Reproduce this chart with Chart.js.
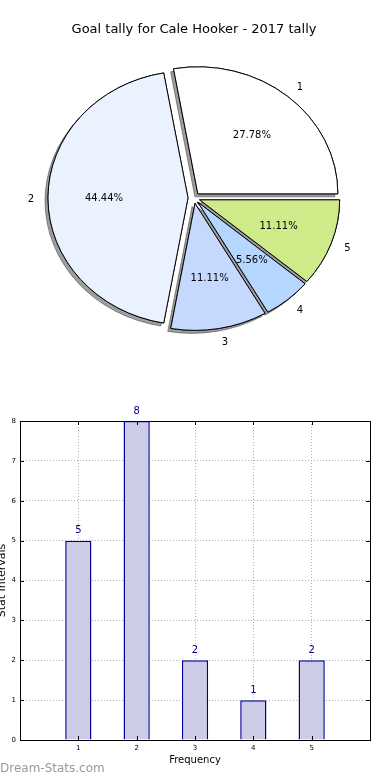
<!DOCTYPE html>
<html>
<head>
<meta charset="utf-8">
<script src="https://cdn.jsdelivr.net/npm/chart.js@4.4.1/dist/chart.umd.min.js"></script>
<style>
  body { margin: 0; background: #fff; width: 390px; height: 780px; position: relative; overflow: hidden; }
  #pieChart { position: absolute; left: 0; top: 0; }
  #barChart { position: absolute; left: 0; top: 400px; }
  #brand { position: absolute; left: 0; top: 761px; font: 12px 'DejaVu Sans', sans-serif; color: #999; }
</style>
</head>
<body>
<canvas id="pieChart" width="390" height="400"></canvas>
<canvas id="barChart" width="390" height="380"></canvas>
<div id="brand">Dream-Stats.com</div>
<script>
const titleText = 'Goal tally for Cale Hooker - 2017 tally';
const categories = ['1', '2', '3', '4', '5'];
const tally = [5, 8, 2, 1, 2];
const sliceColors = ['#ffffff', '#ebf2ff', '#c5d9ff', '#b4d6ff', '#cfeb89'];
const freqTicks = [1, 2, 3, 4, 5];
const yTicks = [0, 1, 2, 3, 4, 5, 6, 7, 8];

Chart.defaults.font.family = "'DejaVu Sans', sans-serif";
Chart.defaults.color = '#000';

const EXPLODE = 6;      // px pushed out along each wedge's middle
const SQUASH = 127 / 140; // the original pie is a little flattened

// matplotlib goes counter-clockwise from 3 o'clock, Chart.js clockwise -> reverse
const pieLabels = categories.slice().reverse();
const pieValues = tally.slice().reverse();
const pieColors = sliceColors.slice().reverse();
const total = tally.reduce((a, b) => a + b, 0);

function wedgeCenter(arc) {
    const mid = (arc.startAngle + arc.endAngle) / 2;
    return {
        mid,
        x: arc.x + Math.cos(mid) * EXPLODE,
        y: arc.y + Math.sin(mid) * EXPLODE * SQUASH
    };
}

const pieLook = {
    id: 'pieLook',
    beforeDatasetsDraw(chart) {
        const ctx = chart.ctx;
        const arcs = chart.getDatasetMeta(0).data;
        const pass = (shadow) => arcs.forEach(arc => {
            const c = wedgeCenter(arc);
            ctx.save();
            if (shadow) {
                ctx.shadowColor = 'rgba(0,0,0,0.38)';
                ctx.shadowOffsetX = -3;
                ctx.shadowOffsetY = 3;
                ctx.shadowBlur = 0;
            }
            ctx.translate(c.x, c.y);
            ctx.scale(1, SQUASH);
            ctx.translate(-arc.x, -arc.y);
            arc.draw(ctx);
            ctx.restore();
        });
        pass(true);
        pass(false);
        return false;
    },
    afterDraw(chart) {
        const ctx = chart.ctx;
        const arcs = chart.getDatasetMeta(0).data;
        ctx.save();
        ctx.fillStyle = '#000';
        ctx.font = "10px 'DejaVu Sans'";
        ctx.textBaseline = 'middle';
        arcs.forEach((arc, i) => {
            const c = wedgeCenter(arc);
            const r = arc.outerRadius;
            const cos = Math.cos(c.mid), sin = Math.sin(c.mid);
            const pct = (pieValues[i] / total * 100).toFixed(2) + '%';
            ctx.textAlign = 'center';
            ctx.fillText(pct, c.x + cos * 0.6 * r, c.y + sin * 0.6 * r * SQUASH);
            ctx.textAlign = cos > 0 ? 'left' : 'right';
            ctx.fillText(chart.data.labels[i], c.x + cos * 1.1 * r, c.y + sin * 1.1 * r * SQUASH + 1);
        });
        ctx.restore();
    }
};

new Chart(document.getElementById('pieChart'), {
    type: 'pie',
    data: {
        labels: pieLabels,
        datasets: [{
            data: pieValues,
            backgroundColor: pieColors,
            borderColor: '#000',
            borderWidth: 1
        }]
    },
    options: {
        responsive: false,
        animation: false,
        events: [],
        rotation: 90,
        radius: 140,
        layout: { padding: { left: 0, right: 2, top: 0, bottom: 44.6 } },
        plugins: {
            legend: { display: false },
            tooltip: { enabled: false },
            title: {
                display: true,
                text: titleText,
                font: { size: 13, weight: 'normal' },
                color: '#000',
                padding: { top: 22, bottom: 3 }
            }
        }
    },
    plugins: [pieLook]
});

// bar chart: value labels, box and inward ticks
const barLook = {
    id: 'barLook',
    afterDatasetsDraw(chart) {
        const ctx = chart.ctx;
        const bars = chart.getDatasetMeta(0).data;
        ctx.save();
        ctx.fillStyle = '#00008b';
        ctx.font = "10px 'DejaVu Sans'";
        ctx.textAlign = 'center';
        ctx.textBaseline = 'middle';
        bars.forEach((bar, i) => {
            ctx.fillText(String(tally[i]), bar.x, bar.y - 10);
        });
        ctx.restore();
    },
    afterDraw(chart) {
        const ctx = chart.ctx;
        const a = chart.chartArea;
        const xs = chart.scales.x, ys = chart.scales.y;
        ctx.save();
        ctx.strokeStyle = '#000';
        ctx.lineWidth = 1;
        ctx.beginPath();
        freqTicks.forEach(v => {
            const px = Math.round(xs.getPixelForValue(v)) + 0.5;
            ctx.moveTo(px, a.bottom); ctx.lineTo(px, a.bottom - 4);
            ctx.moveTo(px, a.top); ctx.lineTo(px, a.top + 4);
        });
        yTicks.forEach(v => {
            const py = Math.round(ys.getPixelForValue(v)) + 0.5;
            ctx.moveTo(a.left, py); ctx.lineTo(a.left + 4, py);
            ctx.moveTo(a.right, py); ctx.lineTo(a.right - 4, py);
        });
        ctx.stroke();
        ctx.strokeRect(Math.round(a.left) + 0.5, Math.round(a.top) + 0.5,
            Math.round(a.right - a.left), Math.round(a.bottom - a.top));
        ctx.restore();
    }
};

new Chart(document.getElementById('barChart'), {
    type: 'bar',
    data: {
        datasets: [{
            data: freqTicks.map((f, i) => ({ x: f, y: tally[i] })),
            backgroundColor: '#ccccE6',
            borderColor: '#00009a',
            borderWidth: 1.5,
            categoryPercentage: 1,
            barPercentage: 0.45
        }]
    },
    options: {
        responsive: false,
        animation: false,
        events: [],
        layout: { padding: { left: 0, right: 20, top: 21, bottom: 0 } },
        plugins: { legend: { display: false }, tooltip: { enabled: false } },
        scales: {
            x: {
                type: 'linear',
                min: 0,
                max: 6,
                offset: false,
                z: 1,
                afterFit: s => { s.height = 40; },
                afterBuildTicks: s => { s.ticks = [0, ...freqTicks, 6].map(v => ({ value: v })); },
                ticks: {
                    font: { size: 7 },
                    padding: 4,
                    maxRotation: 0,
                    callback: v => freqTicks.includes(v) ? String(v) : ''
                },
                grid: { color: '#b0b0b0', drawTicks: false, lineWidth: 1, offset: false },
                border: { display: false, dash: [1, 2] },
                title: { display: true, text: 'Frequency', font: { size: 10 }, padding: { top: 0, bottom: 14 } }
            },
            y: {
                min: 0,
                max: 8,
                z: 1,
                afterFit: s => { s.width = 20; },
                afterBuildTicks: s => { s.ticks = yTicks.map(v => ({ value: v })); },
                ticks: { font: { size: 7 }, padding: 4 },
                grid: { color: '#b0b0b0', drawTicks: false, lineWidth: 1 },
                border: { display: false, dash: [1, 2] },
                title: { display: true, text: 'Stat Intervals', font: { size: 11 }, padding: { top: -4, bottom: 0 } }
            }
        }
    },
    plugins: [barLook]
});
</script>
</body>
</html>
